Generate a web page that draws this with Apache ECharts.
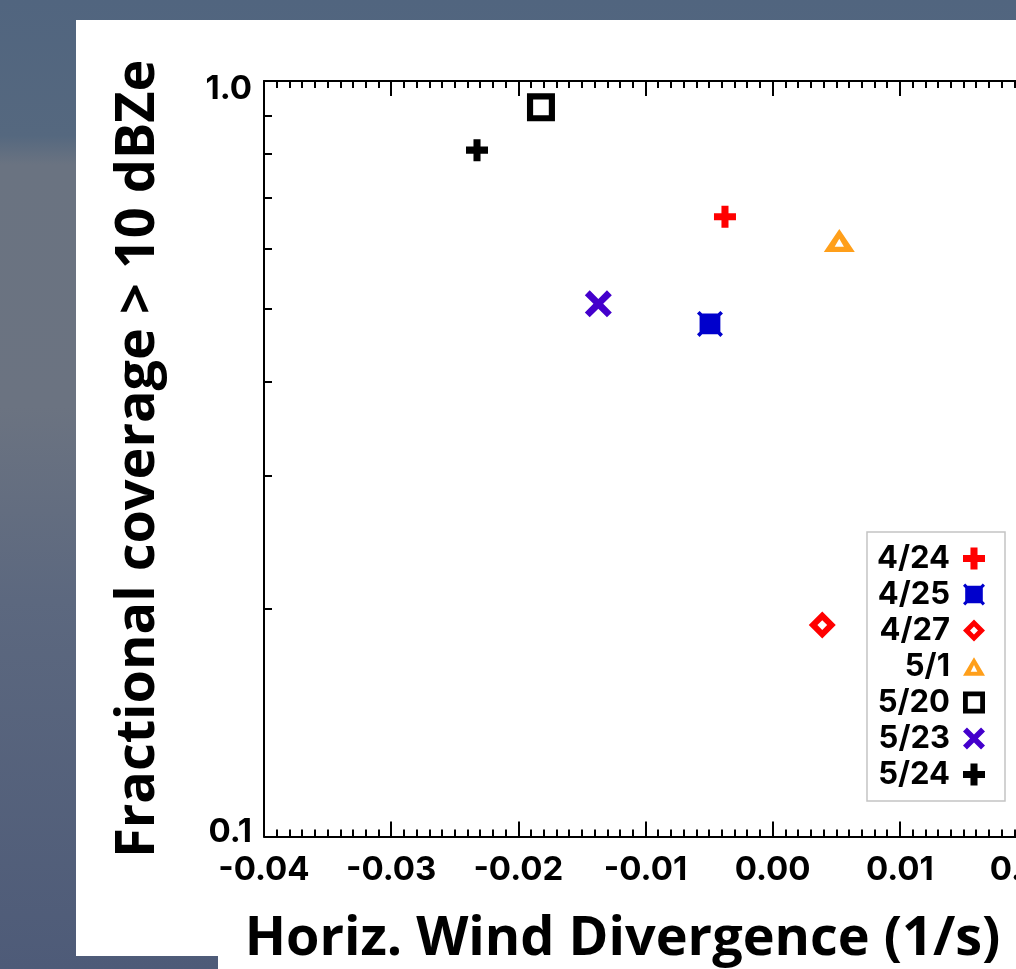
<!DOCTYPE html>
<html>
<head>
<meta charset="utf-8">
<title>Fractional coverage vs. horizontal wind divergence</title>
<script src="https://cdn.jsdelivr.net/npm/echarts@6/dist/echarts.min.js"></script>
<style>
  html, body { margin: 0; padding: 0; background: #52667f; }
  #chart { width: 1016px; height: 969px; }
</style>
</head>
<body>
<div id="chart"></div>
<script>
// Case dates, one scatter series each
const caseDates = ['4/24', '4/25', '4/27', '5/1', '5/20', '5/23', '5/24'];
// Horizontal wind divergence (1/s)
const divergence = [-0.00375, -0.00493, 0.0039, 0.00524, -0.01822, -0.01371, -0.02325];
// Fractional coverage > 10 dBZe
const coverage = [0.661, 0.477, 0.1905, 0.615, 0.923, 0.507, 0.810];
// Axis tick values
const yLabelValues = [0.1, 1.0];
const yMinorValues = [0.2, 0.3, 0.4, 0.5, 0.6, 0.7, 0.8, 0.9];

// Marker styling per case
const markerColors = ['#ff0000', '#0000cc', '#ff0000', '#ff9f1a', '#000000', '#4400cc', '#000000'];
const SYM = {
  plus: 'path://M3.4 0H6.6V3.4H10V6.6H6.6V10H3.4V6.6H0V3.4H3.4Z',
  star: 'path://M1 2L0 1L1 0L2 1L8 1L9 0L10 1L9 2L9 8L10 9L9 10L8 9L2 9L1 10L0 9L1 8Z',
  diamond: 'path://M5 0L10 5L5 10L0 5Z M5 3.2L3.2 5L5 6.8L6.8 5Z',
  triangle: 'path://M5 0L10 8.5L0 8.5Z M5 3.6L3.5 6.6L6.5 6.6Z',
  square: 'path://M0 0H10V10H0Z M2.2 2.2V7.8H7.8V2.2Z',
  cross: 'path://M0 1.8L1.8 0L5 3.2L8.2 0L10 1.8L6.8 5L10 8.2L8.2 10L5 6.8L1.8 10L0 8.2L3.2 5Z'
};
const markerSymbols = [SYM.plus, SYM.star, SYM.diamond, SYM.triangle, SYM.square, SYM.cross, SYM.plus];
const markerSizes = [22, 26, 27, [31, 27], 28, 27, 22];

const tickFont = 'Inter, "Liberation Sans", Arial, sans-serif';
const titleFont = '"Open Sans", "Noto Sans", sans-serif';

const series = caseDates.map((name, i) => ({
  name: name,
  type: 'scatter',
  symbol: markerSymbols[i],
  symbolSize: markerSizes[i],
  symbolKeepAspect: true,
  itemStyle: { color: markerColors[i], opacity: 1 },
  emphasis: { disabled: true },
  data: [[divergence[i], coverage[i]]]
}));

const xAxisCommon = {
  type: 'value',
  min: -0.04,
  max: 0.02,
  interval: 0.01,
  axisLine: { show: true, onZero: false, lineStyle: { color: '#000', width: 2 } },
  axisTick: { show: true, inside: true, length: 15, lineStyle: { color: '#000', width: 2 } },
  minorTick: { show: true, splitNumber: 10, length: 7, lineStyle: { color: '#000', width: 2 } },
  splitLine: { show: false },
  minorSplitLine: { show: false }
};

const chart = echarts.init(document.getElementById('chart'), null, { renderer: 'canvas' });
chart.setOption({
  animation: false,
  backgroundColor: {
    type: 'linear', x: 0, y: 0, x2: 0, y2: 1,
    colorStops: [
      { offset: 0, color: '#51657f' },
      { offset: 0.14, color: '#55687f' },
      { offset: 0.17, color: '#6a7381' },
      { offset: 0.42, color: '#6b7381' },
      { offset: 0.62, color: '#5c687f' },
      { offset: 1, color: '#4e5b78' }
    ]
  },
  graphic: [
    { type: 'rect', z: -10, silent: true, shape: { x: 76, y: 20, width: 940, height: 936 }, style: { fill: '#ffffff' } },
    { type: 'rect', z: -10, silent: true, shape: { x: 218, y: 955, width: 798, height: 14 }, style: { fill: '#ffffff' } }
  ],
  grid: { left: 264, top: 81, width: 763, height: 755.5, containLabel: false, outerBoundsMode: 'none' },
  xAxis: [
    Object.assign({}, xAxisCommon, {
      position: 'bottom',
      name: 'Horiz. Wind Divergence (1/s)',
      nameLocation: 'middle',
      nameGap: 76,
      nameTextStyle: { fontFamily: titleFont, fontWeight: 'bold', fontSize: 54, color: '#000', padding: [0, 46, 0, 0] },
      axisLabel: {
        show: true, margin: 17, color: '#000', fontFamily: tickFont, fontWeight: 'bold', fontSize: 33,
        formatter: v => v.toFixed(2)
      }
    }),
    Object.assign({}, xAxisCommon, {
      position: 'top',
      axisLabel: { show: false }
    })
  ],
  yAxis: {
    type: 'log',
    logBase: 10,
    min: 0.1,
    max: 1,
    name: 'Fractional coverage > 10 dBZe',
    nameLocation: 'middle',
    nameRotate: 90,
    nameGap: 98,
    nameTextStyle: { fontFamily: titleFont, fontWeight: 'bold', fontSize: 54, color: '#000' },
    axisLine: { show: true, onZero: false, lineStyle: { color: '#000', width: 2 } },
    axisTick: { show: true, inside: true, length: 8, customValues: yMinorValues, lineStyle: { color: '#000', width: 2 } },
    splitLine: { show: false },
    axisLabel: {
      show: true, margin: 12, color: '#000', fontFamily: tickFont, fontWeight: 'bold', fontSize: 33,
      customValues: yLabelValues,
      formatter: v => (v > 0.5 ? '{hi|' + v.toFixed(1) + '}' : '{lo|' + v.toFixed(1) + '}'),
      rich: {
        hi: { padding: [16, 0, 0, 0], fontFamily: tickFont, fontWeight: 'bold', fontSize: 33, color: '#000' },
        lo: { padding: [0, 0, 8, 0], fontFamily: tickFont, fontWeight: 'bold', fontSize: 33, color: '#000' }
      }
    }
  },
  legend: {
    orient: 'vertical',
    align: 'right',
    right: 11,
    top: 532,
    selectedMode: false,
    backgroundColor: '#ffffff',
    borderColor: '#c4c4c4',
    borderWidth: 1.5,
    padding: [11, 20, 11, 10],
    itemGap: 5,
    itemWidth: 22,
    itemHeight: 22,
    textStyle: { color: '#000', fontFamily: tickFont, fontWeight: 'bold', fontSize: 31, padding: [0, 8, 0, 0] },
    data: caseDates
  },
  series: series
});
</script>
</body>
</html>
